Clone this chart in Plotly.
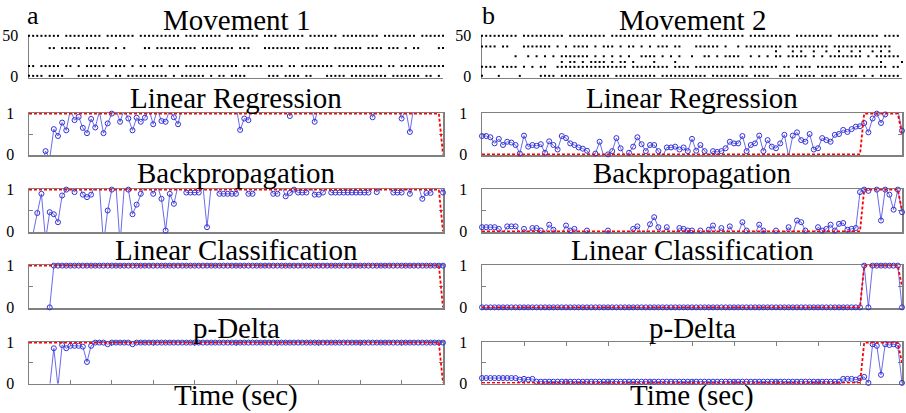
import plotly.graph_objects as go

# ---------------- data ----------------
T = list(range(101))

TARGET_LEFT = [1] * 100 + [0]
TARGET_RIGHT = [0] * 91 + [1] * 9 + [0.5]

LR_LEFT = [-0.3, -0.3, -0.3, -0.3, 0.08, -0.1, 0.62, 0.45, 0.78, 0.59,
           1.1, 0.84, 0.92, 0.65, 0.52, 0.87, 0.66, 1.05, 0.52, 0.76,
           1.0, 1.1, 0.8, 1.1, 0.88, 0.59, 0.9, 0.8, 0.9, 1.1,
           0.74, 1.1, 0.82, 0.8, 1.1, 0.91, 0.74, 1.2, 1.2, 1.2,
           1.2, 1.2, 1.2, 1.2, 1.2, 1.2, 1.2, 1.2, 1.2, 1.2,
           1.2, 0.6, 0.88, 0.84, 1.2, 1.2, 1.2, 1.2, 1.2, 1.2,
           1.2, 1.2, 1.2, 0.94, 1.2, 1.2, 1.2, 1.2, 1.2, 0.8,
           1.2, 1.2, 1.2, 1.2, 1.2, 1.2, 1.2, 1.2, 1.2, 1.2,
           1.2, 1.2, 1.2, 0.91, 1.2, 1.2, 1.2, 1.2, 1.2, 1.2,
           0.88, 1.1, 0.55, 1.2, 1.2, 1.2, 1.2, 1.2, 1.2, 1.2,
           1.2]

BP_LEFT = [-0.3, -0.05, 0.44, 0.90, -0.2, 0.46, 0.41, 0.22, 0.86, 1.0,
           1.1, 0.94, 1.1, 0.88, 0.82, 0.88, 1.1, 1.1, -0.3, 0.5,
           1.0, 1.1, -0.3, 1.05, 1.0, 0.41, 0.64, 0.9, 1.1, 1.1,
           0.9, 1.1, 0.78, 0.02, 0.9, 0.66, 1.1, 1.1, 0.93, 0.93,
           0.93, 0.93, 1.1, 0.1, 1.1, 1.1, 0.9, 0.9, 0.9, 0.9,
           0.9, 1.1, 1.1, 0.9, 0.9, 1.1, 1.1, 1.1, 1.1, 0.9,
           0.9, 1.1, 0.84, 0.92, 1.0, 0.93, 0.93, 0.93, 1.1, 0.88,
           0.88, 0.93, 1.1, 0.93, 0.93, 0.93, 0.93, 0.93, 0.93, 0.93,
           0.93, 0.93, 0.93, 1.1, 0.94, 1.1, 1.1, 1.1, 0.93, 0.93,
           0.93, 1.1, 0.9, 1.1, 1.1, 0.78, 0.92, 0.92, 1.1, 1.1,
           0.93]

LC_LEFT = [-1, -1, -1, -1, -1, 0] + [1] * 95

PD_LEFT = [-1, -1, -1, -1, -1, -0.1, 0.86, -0.1, 0.94, 0.86,
           0.92, 0.92, 0.92, 0.9, 0.52, 0.92, 1, 1, 1, 0.96,
           1, 1, 1, 1, 1, 0.96] + [1] * 75

LR_RIGHT = [0.45, 0.45, 0.42, 0.27, 0.38, 0.23, 0.31, 0.29, 0.23, 0.02,
            0.46, 0.19, 0.23, 0.21, 0.25, 0.04, 0.32, 0.23, 0.12, 0.45,
            0.40, 0.27, 0.23, 0.17, 0.14, 0.09, -0.05, 0.02, 0.31, -0.05,
            0.00, 0.08, 0.40, 0.15, -0.05, 0.04, 0.19, 0.42, 0.25, 0.08,
            0.23, 0.23, 0.08, -0.05, 0.17, 0.17, 0.19, 0.12, 0.17, 0.08,
            0.38, 0.09, 0.23, 0.08, -0.05, 0.08, 0.06, 0.08, 0.15, 0.31,
            0.27, 0.27, 0.45, 0.08, 0.23, 0.27, 0.46, 0.08, 0.35, 0.19,
            0.15, 0.27, 0.48, -0.05, 0.46, 0.54, 0.35, 0.31, 0.50, 0.12,
            0.15, 0.40, 0.35, 0.31, 0.48, 0.50, 0.60, 0.55, 0.62, 0.68,
            0.69, 0.77, 0.54, 0.88, 1.00, 0.77, 0.98, 1.1, 1.1, 1.1,
            0.58]

BP_RIGHT = [0.1, 0.1, 0.1, 0.1, 0.06, -0.05, 0.12, 0.12, 0.12, -0.05,
            0.06, -0.05, 0.08, 0.08, 0.02, -0.05, 0.16, 0.04, -0.05, -0.05,
            0.14, 0.02, 0.06, -0.05, -0.05, 0.02, -0.05, -0.05, -0.05, -0.05,
            0.02, -0.05, -0.05, -0.05, -0.05, -0.05, 0.06, 0.12, -0.05, -0.05,
            0.17, 0.34, 0.1, -0.05, 0.1, -0.05, -0.05, 0.08, 0.06, 0.02,
            0.02, -0.05, 0.02, -0.05, 0.04, 0.14, -0.05, 0.08, -0.05, 0.12,
            -0.05, -0.05, 0.22, 0.02, -0.05, -0.05, 0.16, 0.02, -0.05, -0.05,
            0.02, -0.05, -0.05, 0.1, -0.05, 0.26, 0.22, 0.02, -0.05, -0.05,
            0.1, 0.02, 0.06, 0.16, 0.02, 0.18, 0.2, 0.04, 0.06, 0.08,
            0.94, 1.0, 0.97, 1.1, 1.0, 0.26, 1.0, 0.88, 0.52, 1.0,
            0.46]

LC_RIGHT = [0] * 91 + [1, 0, 1, 1, 1, 1, 1, 1, 1, 0]

PD_RIGHT = [0.12] * 9 + [0.08, 0.1, 0.08, 0.1] + [0.03] * 73 + \
    [0.1, 0.1, 0.1, 0.08, 0.12, 0.15, 0.0, 0.96, 0.92, 0.2, 0.96, 0.94, 0.96, 0.92, 0.0]

# spike raster rows: (neuron level, pattern string, one char per time bin)
RASTER_LEFT = [
    (50, "########.#########.#######.##########.#########.########.##########.#######.#########.########.######"),
    (35, ".....##.#####.######.#.#....##.##########.########.###...#########.######.#######.####.###.#.##....##"),
    (13, "##.#####.##.#.#####.####.#.##.###.###.#############.#####.####.##.########.###########.##.###########"),
    (1,  "####.####...######.#.##.##########.#.######.#.##.####.....###.####.##...#####.#########.#######.##.#"),
]
RASTER_RIGHT = [
    (50, "#########.##########.#########.###########.##########.#########.##########.#########.##########.####"),
    (37, "####.##...#######.#.#.####.#.###.#.##.#.#.###.##...######.#..#.#########.##########.##############"),
    (31, "......................................................................#...#.#..#..#..#..#.#..#.#.#"),
    (25, "........#..#.#.#.#.#######.#.#.#.#.#..####.#.#.#..#..##.#.####..#.#.#.##.#####.#.#.########.#.######"),
    (18, "...................#.##.#.####.#.##.#....#....#................................................#....#"),
    (12, "####.####.#.#.##..#################.#########.####.############.#######.##.####.#########.#######.##"),
    (1,  "#...#....#....####.############.##########.###########.#########.####..###.#####.####.####.#.#.#####"),
]

TITLES = ["Movement", "Linear Regression", "Backpropagation", "Linear Classification", "p-Delta"]
PANEL_LABELS = ["a", "b"]
XLABEL = "Time (sec)"

LEFT_SERIES = [LR_LEFT, BP_LEFT, LC_LEFT, PD_LEFT]
RIGHT_SERIES = [LR_RIGHT, BP_RIGHT, LC_RIGHT, PD_RIGHT]

# ---------------- layout geometry ----------------
W, H = 906, 413
XPIX = [(29, 443), (482, 902)]
YPIX = [(35, 77.5), (113, 155), (189, 232), (265, 308), (342, 383.5)]
SERIF = "Liberation Serif, Times New Roman, Times, serif"
GREY = "#808080"
PAD = 0.015

fig = go.Figure()


def axname(k, letter):
    return letter if k == 1 else f"{letter}{k}"


layout = {}
for r in range(5):
    for c in range(2):
        k = r * 2 + c + 1
        xd = [XPIX[c][0] / W, XPIX[c][1] / W]
        yd = [1 - YPIX[r][1] / H, 1 - YPIX[r][0] / H]
        xa = dict(domain=xd, range=[0, 100], anchor=axname(k, "y"), showgrid=False,
                  zeroline=False, showline=True, linecolor=GREY, linewidth=1.5,
                  showticklabels=False, layer="below traces", fixedrange=True)
        ya = dict(domain=yd, anchor=axname(k, "x"), showgrid=False, zeroline=False,
                  showline=True, linecolor=GREY, linewidth=1.5, layer="below traces",
                  tickfont=dict(family=SERIF, size=16, color="black"), fixedrange=True)
        if r == 0:
            xa.update(mirror=False, ticks="")
            ya.update(range=[-1, 51], tickvals=[0, 50], ticktext=["0", "50"], ticks="",
                      mirror=False, ticklabelstandoff=6)
        else:
            xa.update(mirror="ticks")
            if r == 4:
                xa.update(ticks="inside", tickvals=list(range(0, 101, 10)), ticklen=4,
                          tickcolor=GREY, tickwidth=1)
            else:
                xa.update(ticks="")
            ya.update(range=[-PAD, 1 + PAD], tickvals=[0, 0.5, 1], ticktext=["0", "", "1"],
                      ticks="inside", ticklen=4, tickcolor=GREY, tickwidth=1,
                      mirror="ticks", ticklabelstandoff=10)
        layout["xaxis" if k == 1 else f"xaxis{k}"] = xa
        layout["yaxis" if k == 1 else f"yaxis{k}"] = ya

# raster traces
for c, rows in enumerate([RASTER_LEFT, RASTER_RIGHT]):
    k = c + 1
    for level, pat in rows:
        xs = [i for i, ch in enumerate(pat) if ch == "#"]
        fig.add_trace(go.Scatter(x=xs, y=[level] * len(xs), mode="markers",
                                 marker=dict(symbol="square", size=2, color="black"),
                                 xaxis=axname(k, "x"), yaxis=axname(k, "y"),
                                 cliponaxis=False, hoverinfo="skip", showlegend=False))

# prediction traces
for c, (series_list, target) in enumerate([(LEFT_SERIES, TARGET_LEFT), (RIGHT_SERIES, TARGET_RIGHT)]):
    for r, vals in enumerate(series_list):
        k = (r + 1) * 2 + c + 1
        xr, yr = axname(k, "x"), axname(k, "y")
        # connecting line, clipped to the plot area
        fig.add_trace(go.Scatter(x=T, y=vals, mode="lines",
                                 line=dict(color="rgba(80,80,230,0.85)", width=1),
                                 xaxis=xr, yaxis=yr, cliponaxis=True,
                                 hoverinfo="skip", showlegend=False))
        # open circle markers (out-of-range ones are hidden)
        fig.add_trace(go.Scatter(x=T, y=vals, mode="markers",
                                 marker=dict(symbol="circle-open", size=5, color="rgb(50,50,215)",
                                             line=dict(width=1)),
                                 xaxis=xr, yaxis=yr, cliponaxis=False,
                                 hoverinfo="skip", showlegend=False))
        fig.add_trace(go.Scatter(x=T, y=target, mode="lines",
                                 line=dict(color="red", width=1.8, dash="3px,2px"),
                                 xaxis=xr, yaxis=yr, cliponaxis=False,
                                 hoverinfo="skip", showlegend=False))

# titles
annotations = []
TITLE_Y = [20, 98.5, 173, 250, 327.5]
CENTERS = [(XPIX[0][0] + XPIX[0][1]) / 2, (XPIX[1][0] + XPIX[1][1]) / 2]
TITLE_SIZE = 29
for c in range(2):
    for r in range(5):
        txt = TITLES[r] + (f" {c + 1}" if r == 0 else "")
        annotations.append(dict(text=txt, x=CENTERS[c] / W, y=1 - TITLE_Y[r] / H,
                                xref="paper", yref="paper", xanchor="center", yanchor="middle",
                                showarrow=False,
                                font=dict(family=SERIF, size=TITLE_SIZE, color="black")))
    annotations.append(dict(text=XLABEL, x=CENTERS[c] / W, y=1 - 395 / H, xref="paper", yref="paper",
                            xanchor="center", yanchor="middle", showarrow=False,
                            font=dict(family=SERIF, size=TITLE_SIZE, color="black")))
LABEL_X = [33, 488]
for c in range(2):
    annotations.append(dict(text=PANEL_LABELS[c], x=LABEL_X[c] / W, y=1 - 16 / H, xref="paper",
                            yref="paper", xanchor="center", yanchor="middle", showarrow=False,
                            font=dict(family=SERIF, size=26, color="black")))

fig.update_layout(width=W, height=H,
                  margin=dict(l=0, r=0, t=0, b=0, pad=0, autoexpand=False),
                  paper_bgcolor="white", plot_bgcolor="white", showlegend=False,
                  hovermode=False, annotations=annotations, **layout)

fig.write_html("out.html", config={"displayModeBar": False, "staticPlot": True},
               post_script="document.body.style.margin='0';document.body.style.overflow='hidden';")
